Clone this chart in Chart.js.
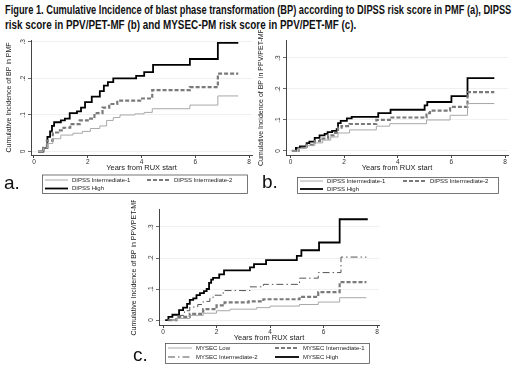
<!DOCTYPE html>
<html>
<head>
<meta charset="utf-8">
<script src="https://cdn.jsdelivr.net/npm/chart.js@4.4.1/dist/chart.umd.min.js"></script>
<style>
  body { margin: 0; width: 520px; height: 371px; overflow: hidden; position: relative; background: #fff; }
  .ttl { position: absolute; left: 5px; font: bold 13px "Liberation Sans Narrow", "Liberation Sans", Arial, sans-serif; color: #111; white-space: nowrap; transform-origin: 0 50%; }
  canvas { position: absolute; }
</style>
</head>
<body>
<div class="ttl" id="t1" style="top:2px">Figure 1. Cumulative Incidence of blast phase transformation (BP) according to DIPSS risk score in PMF (a), DIPSS</div>
<div class="ttl" id="t2" style="top:17px">risk score in PPV/PET-MF (b) and MYSEC-PM risk score in PPV/PET-MF (c).</div>
<canvas id="ca" width="257" height="172" style="left:0;top:30px"></canvas>
<canvas id="cb" width="264" height="172" style="left:256px;top:30px"></canvas>
<canvas id="cc" width="262" height="171" style="left:128px;top:200px"></canvas>
<script>
// axis ticks shared by all panels
const xTicks = [0, 2, 4, 6, 8];
const yTicks = [0, 0.1, 0.2, 0.3];

const labelsDipss = ['DIPSS Intermediate-1', 'DIPSS Intermediate-2', 'DIPSS High'];
const labelsMysec = ['MYSEC Low', 'MYSEC Intermediate-1', 'MYSEC Intermediate-2', 'MYSEC High'];

// panel a: PMF by DIPSS (years at each step, cumulative incidence after the step)
const aInt1Years = [0.15, 0.35, 0.5, 0.7, 1.0, 1.45, 1.8, 2.1, 2.45, 2.7, 2.95, 3.2, 3.75, 4.1, 4.4, 5.8, 6.84, 7.6];
const aInt1Cif   = [0, 0.01, 0.022, 0.035, 0.045, 0.05, 0.055, 0.063, 0.07, 0.085, 0.093, 0.1, 0.103, 0.107, 0.117, 0.127, 0.152, 0.152];
const aInt2Years = [0.15, 0.35, 0.48, 0.7, 0.9, 1.1, 1.35, 1.7, 2.0, 2.25, 2.55, 2.8, 3.1, 3.95, 4.4, 5.8, 6.84, 7.6];
const aInt2Cif   = [0, 0.01, 0.03, 0.052, 0.058, 0.065, 0.075, 0.085, 0.09, 0.105, 0.12, 0.13, 0.139, 0.145, 0.168, 0.176, 0.213, 0.213];
const aHighYears = [0.15, 0.35, 0.5, 0.6, 0.67, 0.75, 1.0, 1.15, 1.33, 1.6, 1.75, 1.9, 2.15, 2.45, 2.6, 2.75, 2.95, 3.8, 4.1, 4.43, 5.8, 6.84, 7.6];
const aHighCif   = [0, 0.01, 0.04, 0.055, 0.07, 0.08, 0.085, 0.09, 0.105, 0.11, 0.12, 0.135, 0.15, 0.165, 0.18, 0.19, 0.2, 0.207, 0.217, 0.237, 0.253, 0.297, 0.297];

// panel b: PPV/PET-MF by DIPSS
const bInt1Years = [0.05, 0.3, 0.6, 0.9, 1.2, 1.5, 1.77, 2.2, 3.2, 3.7, 5.07, 5.95, 6.6, 7.6];
const bInt1Cif   = [0, 0.008, 0.017, 0.026, 0.035, 0.045, 0.058, 0.068, 0.08, 0.088, 0.1, 0.115, 0.153, 0.153];
const bInt2Years = [0.05, 0.3, 0.6, 0.9, 1.1, 1.4, 1.6, 1.77, 1.9, 2.2, 3.2, 3.7, 5.07, 5.2, 5.95, 6.6, 7.6];
const bInt2Cif   = [0, 0.01, 0.02, 0.032, 0.04, 0.05, 0.058, 0.075, 0.08, 0.087, 0.1, 0.108, 0.122, 0.13, 0.142, 0.19, 0.19];
const bHighYears = [0.05, 0.2, 0.35, 0.6, 0.7, 0.9, 1.08, 1.27, 1.38, 1.55, 1.72, 1.77, 1.87, 2.1, 2.28, 3.27, 3.73, 5.0, 5.1, 6.0, 6.6, 7.6];
const bHighCif   = [0, 0.01, 0.015, 0.025, 0.03, 0.042, 0.05, 0.055, 0.061, 0.065, 0.07, 0.09, 0.097, 0.105, 0.11, 0.122, 0.133, 0.147, 0.158, 0.177, 0.235, 0.235];

// panel c: PPV/PET-MF by MYSEC-PM
const cLowYears  = [0.3, 0.5, 1.0, 1.5, 2.0, 2.5, 3.5, 4.0, 5.1, 5.8, 6.6, 7.6];
const cLowCif    = [0, 0.005, 0.015, 0.022, 0.03, 0.035, 0.04, 0.045, 0.05, 0.058, 0.072, 0.072];
const cInt1Years = [0.2, 0.5, 1.0, 1.5, 2.0, 2.3, 3.2, 3.75, 5.1, 5.8, 6.6, 7.6];
const cInt1Cif   = [0, 0.01, 0.02, 0.035, 0.047, 0.057, 0.06, 0.067, 0.075, 0.09, 0.122, 0.122];
const cInt2Years = [0.15, 0.5, 0.8, 1.0, 1.3, 1.5, 1.75, 1.87, 2.25, 3.25, 3.75, 5.1, 5.8, 6.65, 7.6];
const cInt2Cif   = [0, 0.015, 0.03, 0.042, 0.05, 0.06, 0.07, 0.08, 0.095, 0.107, 0.115, 0.135, 0.153, 0.203, 0.203];
const cHighYears = [0.08, 0.2, 0.35, 0.6, 0.75, 0.9, 1.0, 1.13, 1.25, 1.38, 1.53, 1.63, 1.72, 1.8, 1.87, 2.1, 2.28, 3.25, 3.4, 3.85, 5.0, 5.17, 5.83, 6.6, 7.65];
const cHighCif   = [0, 0.01, 0.017, 0.032, 0.04, 0.052, 0.065, 0.07, 0.08, 0.087, 0.093, 0.1, 0.12, 0.13, 0.136, 0.147, 0.16, 0.17, 0.18, 0.193, 0.207, 0.225, 0.25, 0.325, 0.325];

const FONT = '"Liberation Sans", Arial, sans-serif';

// line looks, Stata style
const styleLight = { borderColor: '#a8a8a8', borderWidth: 1 };
const styleDash = { borderColor: '#7a7a7a', borderWidth: 2.2, borderDash: [4, 2] };
const styleDashDot = { borderColor: '#555', borderWidth: 1, borderDash: [7, 3, 1.5, 3] };
const styleHigh = { borderColor: '#000', borderWidth: 1.8 };

const toPoints = (xs, ys) => xs.map((x, i) => ({ x, y: ys[i] }));
const yLabel = (v) => (v === 0 ? '0' : v.toFixed(1).replace(/^0/, ''));

// legend in a framed box, two columns, plus the panel letter
const boxLegend = {
  id: 'boxLegend',
  afterDraw(chart, args, o) {
    const ctx = chart.ctx;
    ctx.save();
    ctx.strokeStyle = '#555';
    ctx.lineWidth = 0.8;
    ctx.strokeRect(o.box[0] + 0.5, o.box[1] + 0.5, o.box[2], o.box[3]);
    ctx.font = o.fontSize + 'px ' + FONT;
    ctx.textBaseline = 'middle';
    chart.data.datasets.forEach((ds, i) => {
      const x = o.cols[i % 2];
      const y = o.rows[Math.floor(i / 2)];
      ctx.beginPath();
      ctx.strokeStyle = ds.borderColor;
      ctx.lineWidth = ds.borderWidth;
      ctx.setLineDash(ds.borderDash || []);
      ctx.moveTo(x, y);
      ctx.lineTo(x + o.sample, y);
      ctx.stroke();
      ctx.setLineDash([]);
      ctx.fillStyle = '#222';
      ctx.fillText(ds.label, x + o.sample + 4, y);
    });
    ctx.fillStyle = '#111';
    ctx.textBaseline = 'alphabetic';
    ctx.font = '19px ' + FONT;
    ctx.fillText(o.tag, o.tagX, o.tagY);
    ctx.restore();
  }
};

// y tick labels turned sideways, as Stata prints them
const sideTicks = {
  id: 'sideTicks',
  afterDraw(chart) {
    const s = chart.scales.y;
    const ctx = chart.ctx;
    ctx.save();
    ctx.font = '6.5px ' + FONT;
    ctx.fillStyle = '#333';
    ctx.textAlign = 'center';
    ctx.textBaseline = 'middle';
    s.ticks.forEach((t) => {
      ctx.save();
      ctx.translate(s.right - 8, s.getPixelForValue(t.value));
      ctx.rotate(-Math.PI / 2);
      ctx.fillText(yLabel(t.value), 0, 0);
      ctx.restore();
    });
    ctx.restore();
  }
};

function makePanel(id, series, labels, p) {
  new Chart(document.getElementById(id), {
    type: 'line',
    data: {
      datasets: series.map((s, i) => ({
        label: labels[i],
        data: toPoints(s.x, s.y),
        stepped: 'before',
        pointRadius: 0,
        fill: false,
        ...s.style
      }))
    },
    options: {
      responsive: false,
      animation: false,
      events: [],
      layout: { padding: p.padding },
      plugins: {
        legend: { display: false },
        tooltip: { enabled: false },
        boxLegend: p.legend
      },
      scales: {
        x: {
          type: 'linear',
          min: p.xMin,
          max: p.xMax,
          afterBuildTicks: (scale) => { scale.ticks = xTicks.map((v) => ({ value: v })); },
          afterFit: (scale) => { scale.height = 17; },
          grid: { drawOnChartArea: false, tickLength: 3, tickColor: '#444' },
          border: { color: '#444', width: 1 },
          ticks: { font: { size: 6.5, family: FONT }, color: '#333', padding: 0, maxRotation: 0, autoSkip: false },
          title: { display: true, text: 'Years from RUX start', font: { size: 7.5, family: FONT }, color: '#222', padding: 0 }
        },
        y: {
          min: p.yMin,
          max: p.yMax,
          afterBuildTicks: (scale) => { scale.ticks = yTicks.map((v) => ({ value: v })); },
          afterFit: (scale) => { scale.width = p.yWidth; },
          grid: { color: '#ececec', lineWidth: 0.8, tickLength: 3, tickColor: '#444' },
          border: { color: '#444', width: 1 },
          ticks: { display: false },
          title: { display: true, text: p.yTitle, font: { size: 7, family: FONT }, color: '#222', padding: 0 }
        }
      }
    },
    plugins: [boxLegend, sideTicks]
  });
}

makePanel('ca', [
  { x: aInt1Years, y: aInt1Cif, style: styleLight },
  { x: aInt2Years, y: aInt2Cif, style: styleDash },
  { x: aHighYears, y: aHighCif, style: styleHigh }
], labelsDipss, {
  padding: { left: 5, right: 5, top: 10, bottom: 30 },
  yWidth: 26, xMin: -0.11, xMax: 8.11, yMin: -0.0095, yMax: 0.305,
  yTitle: 'Cumulative Incidence of BP in PMF',
  legend: { box: [42, 144.5, 205, 18.5], rows: [150, 158.5], cols: [45, 147], sample: 23, fontSize: 6, tag: 'a.', tagX: 4, tagY: 159 }
});

makePanel('cb', [
  { x: bInt1Years, y: bInt1Cif, style: styleLight },
  { x: bInt2Years, y: bInt2Cif, style: styleDash },
  { x: bHighYears, y: bHighCif, style: styleHigh }
], labelsDipss, {
  padding: { left: 1, right: 12, top: 10, bottom: 30 },
  yWidth: 29, xMin: -0.17, xMax: 8.11, yMin: -0.013, yMax: 0.358,
  yTitle: 'Cumulative Incidence of BP in PPV/PET-MF',
  legend: { box: [41, 147, 201, 16], rows: [151, 159], cols: [44, 147], sample: 23, fontSize: 6, tag: 'b.', tagX: 6, tagY: 158 }
});

makePanel('cc', [
  { x: cLowYears, y: cLowCif, style: styleLight },
  { x: cInt1Years, y: cInt1Cif, style: styleDash },
  { x: cInt2Years, y: cInt2Cif, style: styleDashDot },
  { x: cHighYears, y: cHighCif, style: styleHigh }
], labelsMysec, {
  padding: { left: 2, right: 11, top: 9, bottom: 29 },
  yWidth: 29, xMin: -0.15, xMax: 8.07, yMin: -0.016, yMax: 0.358,
  yTitle: 'Cumulative Incidence of BP in PPV/PET-MF',
  legend: { box: [37, 143, 204, 20], rows: [148, 157], cols: [40, 147], sample: 24, fontSize: 6, tag: 'c.', tagX: 5, tagY: 161 }
});

// squeeze each title line to the width it takes in the figure
const t1 = document.getElementById('t1');
const t2 = document.getElementById('t2');
t1.style.transform = 'scaleX(' + (506 / t1.scrollWidth) + ')';
t2.style.transform = 'scaleX(' + (351 / t2.scrollWidth) + ')';
</script>
</body>
</html>
